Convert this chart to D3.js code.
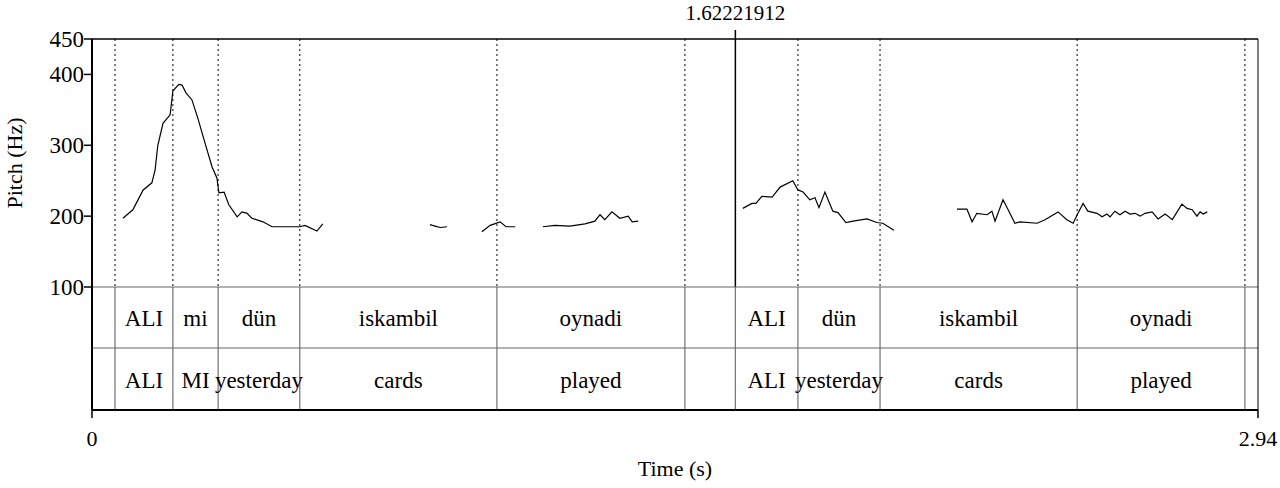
<!DOCTYPE html>
<html><head><meta charset="utf-8">
<script src="https://cdn.jsdelivr.net/npm/d3@7"></script>
<style>body{margin:0;background:#fff}svg{display:block}text{font-family:"Liberation Serif","DejaVu Serif",serif;fill:#000}</style>
</head><body><div id="chart"></div>
<script>
// pitch contour pieces: [time (s), pitch (Hz)]
var pitchSegments = [
  [[0.078,197],[0.103,209],[0.129,237],[0.151,247],[0.159,265],[0.166,300],[0.179,331],[0.197,343],[0.204,377],[0.219,386],[0.227,385],[0.237,374],[0.252,364],[0.267,338],[0.285,303],[0.303,269],[0.315,254],[0.320,233],[0.333,234],[0.345,216],[0.366,199],[0.378,206],[0.391,204],[0.403,197],[0.431,192],[0.454,185],[0.499,185],[0.524,185],[0.537,187],[0.567,179],[0.582,189]],
  [[0.852,188],[0.865,186],[0.878,184],[0.895,185]],
  [[0.983,178],[1.004,187],[1.029,192],[1.044,185],[1.067,185]],
  [[1.137,185],[1.167,187],[1.205,186],[1.243,189],[1.268,193],[1.281,202],[1.293,195],[1.311,206],[1.331,197],[1.352,200],[1.362,192],[1.377,193]],
  [[1.641,211],[1.664,218],[1.674,218],[1.689,228],[1.715,227],[1.735,241],[1.767,250],[1.780,237],[1.793,234],[1.810,223],[1.823,226],[1.833,212],[1.848,234],[1.868,207],[1.881,205],[1.901,191],[1.919,193],[1.954,196],[1.979,191],[1.994,190],[2.022,180]],
  [[2.181,210],[2.206,210],[2.219,192],[2.231,204],[2.257,202],[2.269,207],[2.277,193],[2.297,223],[2.310,209],[2.327,190],[2.340,192],[2.383,190],[2.403,195],[2.436,206],[2.458,195],[2.474,190],[2.486,204],[2.499,218],[2.511,207],[2.534,204],[2.547,199],[2.559,203],[2.567,199],[2.579,207],[2.592,202],[2.605,207],[2.617,203],[2.630,204],[2.643,200],[2.655,204],[2.673,206],[2.688,196],[2.706,203],[2.724,195],[2.748,217],[2.761,211],[2.774,209],[2.786,200],[2.794,206],[2.802,203],[2.812,206]]
];
var boundaries = [0.058,0.204,0.318,0.524,1.021,1.495,1.622,1.780,1.987,2.484,2.907];
var tier1Labels = ["ALI","mi","dün","iskambil","oynadi","","ALI","dün","iskambil","oynadi"];
var tier2Labels = ["ALI","MI","yesterday","cards","played","","ALI","yesterday","cards","played"];
var yTicks = [100,200,300,400,450];
var cursorTime = 1.62221912;
var timeRange = [0, 2.94];

var W = 1280, H = 488;
var left = 92, right = 1258, plotTop = 39, pitchBottom = 287, tierMid = 348, bottom = 410;

var svg = d3.select("#chart").append("svg").attr("width", W).attr("height", H);

var x = d3.scaleLinear().domain(timeRange).range([left, right]);
var y = d3.scaleLinear().domain([100, 450]).range([pitchBottom, plotTop]);

// dotted boundaries in pitch area
svg.selectAll(".dot").data(boundaries.filter(function (d) { return d !== 1.622; })).enter()
  .append("line")
  .attr("x1", function (d) { return x(d); }).attr("x2", function (d) { return x(d); })
  .attr("y1", plotTop).attr("y2", pitchBottom)
  .style("stroke", "#000").style("stroke-width", 1).style("stroke-dasharray", "2,3");

// solid boundaries in tiers
svg.selectAll(".bnd").data(boundaries).enter()
  .append("line")
  .attr("x1", function (d) { return x(d); }).attr("x2", function (d) { return x(d); })
  .attr("y1", pitchBottom).attr("y2", bottom)
  .style("stroke", "#555").style("stroke-width", 1);

// cursor
svg.append("line").attr("x1", x(cursorTime)).attr("x2", x(cursorTime))
  .attr("y1", 30).attr("y2", pitchBottom).style("stroke", "#000").style("stroke-width", 1.5);
svg.append("text").attr("x", x(cursorTime)).attr("y", 20).attr("text-anchor", "middle")
  .style("font-size", "21px").text(cursorTime.toFixed(8));

// tier separators
[pitchBottom, tierMid].forEach(function (yy) {
  svg.append("line").attr("x1", left).attr("x2", right).attr("y1", yy).attr("y2", yy)
    .style("stroke", "#666").style("stroke-width", 1.2);
});

// frame
svg.append("line").attr("x1", left).attr("x2", right).attr("y1", plotTop).attr("y2", plotTop).style("stroke", "#000").style("stroke-width", 1.5);
svg.append("line").attr("x1", right).attr("x2", right).attr("y1", plotTop).attr("y2", bottom).style("stroke", "#000").style("stroke-width", 1);
svg.append("line").attr("x1", left).attr("x2", left).attr("y1", plotTop).attr("y2", bottom).style("stroke", "#000").style("stroke-width", 2);
svg.append("line").attr("x1", left).attr("x2", right).attr("y1", bottom).attr("y2", bottom).style("stroke", "#000").style("stroke-width", 2);

// pitch line
var line = d3.line().x(function (d) { return x(d[0]); }).y(function (d) { return y(d[1]); });
svg.selectAll(".pitch").data(pitchSegments).enter().append("path")
  .attr("d", line).style("fill", "none").style("stroke", "#000").style("stroke-width", 1.2);

// y axis ticks
yTicks.forEach(function (t) {
  svg.append("line").attr("x1", left - 8).attr("x2", left).attr("y1", y(t)).attr("y2", y(t)).style("stroke", "#000").style("stroke-width", 1.5);
  svg.append("text").attr("x", left - 8).attr("y", y(t) + 8).attr("text-anchor", "end")
    .style("font-size", "23px").text(t);
});
svg.append("text").attr("transform", "translate(22," + ((plotTop + pitchBottom) / 2) + ") rotate(-90)")
  .attr("text-anchor", "middle").style("font-size", "22px").text("Pitch (Hz)");

// tier labels
function tierText(labels, cy) {
  labels.forEach(function (l, i) {
    svg.append("text").attr("x", (x(boundaries[i]) + x(boundaries[i + 1])) / 2).attr("y", cy)
      .attr("text-anchor", "middle").style("font-size", "23px").text(l);
  });
}
tierText(tier1Labels, 326);
tierText(tier2Labels, 388);

// time axis
timeRange.forEach(function (t) {
  svg.append("line").attr("x1", x(t)).attr("x2", x(t)).attr("y1", bottom).attr("y2", bottom + 8).style("stroke", "#000").style("stroke-width", 1.5);
  svg.append("text").attr("x", x(t)).attr("y", 446).attr("text-anchor", "middle").style("font-size", "22px").text(t);
});
svg.append("text").attr("x", (left + right) / 2).attr("y", 476).attr("text-anchor", "middle")
  .style("font-size", "22px").text("Time (s)");
</script></body></html>
